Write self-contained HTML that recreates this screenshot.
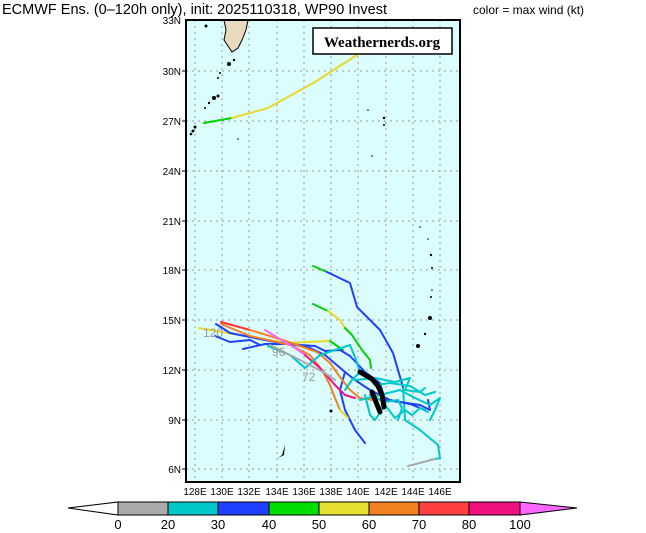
<!DOCTYPE html>
<html><head><meta charset="utf-8"><style>
body{margin:0;background:#fff;width:646px;height:533px;overflow:hidden;font-family:"Liberation Sans",sans-serif}
svg{display:block}
</style></head><body>
<svg width="646" height="533" viewBox="0 0 646 533" xmlns="http://www.w3.org/2000/svg">
<text x="2" y="14" font-size="14.5" font-family="Liberation Sans, sans-serif" fill="#000">ECMWF Ens. (0–120h only), init: 2025110318, WP90 Invest</text>
<text x="473" y="14" font-size="12" font-family="Liberation Sans, sans-serif" fill="#000">color = max wind (kt)</text>
<rect x="186" y="20" width="274" height="462" fill="#dcfdfe"/>
<g stroke="#999" stroke-width="1" stroke-dasharray="2,4">
<line x1="186" y1="71" x2="460" y2="71"/><line x1="186" y1="121" x2="460" y2="121"/><line x1="186" y1="171" x2="460" y2="171"/><line x1="186" y1="221" x2="460" y2="221"/><line x1="186" y1="270" x2="460" y2="270"/><line x1="186" y1="320" x2="460" y2="320"/><line x1="186" y1="370" x2="460" y2="370"/><line x1="186" y1="420" x2="460" y2="420"/><line x1="186" y1="469" x2="460" y2="469"/>
<line x1="195" y1="20" x2="195" y2="482"/><line x1="222" y1="20" x2="222" y2="482"/><line x1="249" y1="20" x2="249" y2="482"/><line x1="277" y1="20" x2="277" y2="482"/><line x1="304" y1="20" x2="304" y2="482"/><line x1="331" y1="20" x2="331" y2="482"/><line x1="358" y1="20" x2="358" y2="482"/><line x1="386" y1="20" x2="386" y2="482"/><line x1="413" y1="20" x2="413" y2="482"/><line x1="440" y1="20" x2="440" y2="482"/>
</g>
<!-- land -->
<path d="M224,20 L248,20 L246,30 L242,40 L238,48 L232,52 L228,46 L224,40 L226,30 Z" fill="#e8d9bf" stroke="#000" stroke-width="1"/>
<g fill="#000">
<circle cx="206" cy="26" r="1.5"/><circle cx="229" cy="64" r="2"/><circle cx="234" cy="60" r="1.2"/><circle cx="220" cy="73" r="1"/><circle cx="218" cy="78" r="1"/>
<circle cx="214" cy="98" r="2"/><circle cx="218" cy="96" r="1.5"/><circle cx="209" cy="103" r="1.2"/><circle cx="205" cy="108" r="1"/>
<circle cx="195" cy="127" r="1.5"/><circle cx="193" cy="131" r="1.5"/><circle cx="191" cy="134" r="1.3"/>
<circle cx="238" cy="139" r="0.8"/><circle cx="368" cy="110" r="0.8"/><circle cx="384" cy="118" r="1.2"/><circle cx="384" cy="125" r="1"/><circle cx="372" cy="156" r="0.8"/>
<circle cx="420" cy="227" r="0.8"/><circle cx="428" cy="239" r="0.8"/><circle cx="431" cy="255" r="1.2"/><circle cx="432" cy="268" r="1"/><circle cx="432" cy="290" r="0.8"/><circle cx="431" cy="297" r="1"/><circle cx="430" cy="318" r="2"/><circle cx="425" cy="334" r="1.2"/><circle cx="418" cy="346" r="2"/>
<circle cx="331" cy="411" r="1.5"/><path d="M282,455 L285,445 L284,455 L278,458 Z"/>
</g>
<!-- tracks -->
<g fill="none" stroke-width="2" stroke-linejoin="round" stroke-linecap="round">
<polyline stroke="#00d000" points="204,123 232,118"/>
<polyline stroke="#e8d82a" points="232,118 268,108 315,82 360,53"/>
<polyline stroke="#00c8c8" points="403,387 405,420 420,430 438,445 440,458 430,460"/>
<polyline stroke="#aaaaaa" points="408,466 435,459"/>
<polyline stroke="#00d000" points="313,266 327,272"/>
<polyline stroke="#2040ff" points="327,272 350,283 357,307 380,330 393,353 403,387"/>
<polyline stroke="#00d000" points="313,304 328,311"/>
<polyline stroke="#e8d82a" points="328,311 340,320 345,328"/>
<polyline stroke="#00d000" points="345,328 352,335 362,350 370,360 371,368"/>
<polyline stroke="#e8d82a" points="199,328 250,337 287,343 330,341"/>
<polyline stroke="#00d000" points="330,341 343,350"/>
<polyline stroke="#2040ff" points="216,324 230,333 250,337 275,342 300,345 315,346 325,351 340,350 350,356 365,372 380,383 385,400 400,402 420,405 430,410 428,400"/>
<polyline stroke="#2040ff" points="243,349 265,344 290,344 310,348 325,355 345,372 355,380 370,390 390,400 410,404 425,410"/>
<polyline stroke="#2040ff" points="215,336 230,342 250,340 260,345"/>
<polyline stroke="#2040ff" points="345,372 340,390 345,410 355,430 365,443"/>
<polyline stroke="#ff3333" points="221,322 250,330"/>
<polyline stroke="#f08020" points="250,330 283,340 317,352 330,363 340,377 350,390 360,398 373,400"/>
<polyline stroke="#f08020" points="221,324 250,336 290,345 310,355 322,370 330,385 335,398 340,410"/>
<polyline stroke="#ff66ff" points="265,330 295,348 305,355"/>
<polyline stroke="#f01080" points="305,355 320,368 335,385 345,395 355,398"/>
<polyline stroke="#e8d82a" points="340,410 348,418"/>
<polyline stroke="#00c8c8" points="268,346 290,355 305,368 320,355 350,345 355,357 360,372 352,380 345,390"/>
<polyline stroke="#00c8c8" points="355,380 375,378 395,382 410,378 405,390 420,392 425,388"/>
<polyline stroke="#00c8c8" points="360,400 380,395 400,390 415,398 430,405 440,398 435,410 430,420"/>
<polyline stroke="#00c8c8" points="365,395 370,415 375,420 385,405 395,418 405,410 412,415 420,408 428,412"/>
<polyline stroke="#00c8c8" points="375,385 390,383 410,386 425,395 435,392"/>
<polyline stroke="#00c8c8" points="370,395 385,402 398,400 402,408 398,420"/>
<polyline stroke="#aaaaaa" points="270,345 300,360 325,373 335,380"/>
</g>
<g fill="none" stroke="#000" stroke-width="5" stroke-linecap="round">
<polyline points="360,372 372,379 378,386 382,395 384,407"/>
<polyline points="372,392 376,402 380,412"/>
</g>
<g font-size="12" fill="#999" font-family="Liberation Sans, sans-serif">
<text x="203" y="337">120</text><text x="272" y="356">96</text><text x="302" y="381">72</text>
</g>
<rect x="186" y="20" width="274" height="462" fill="none" stroke="#000" stroke-width="2"/>
<rect x="313" y="28" width="139" height="26" fill="#fff" stroke="#000" stroke-width="1.5"/>
<text x="382" y="47" font-size="15" font-weight="bold" text-anchor="middle" font-family="Liberation Serif, serif">Weathernerds.org</text>
<g font-size="10" font-family="Liberation Sans, sans-serif" text-anchor="end">
<text x="181" y="24">33N</text><text x="181" y="75">30N</text><text x="181" y="125">27N</text><text x="181" y="175">24N</text><text x="181" y="225">21N</text><text x="181" y="274">18N</text><text x="181" y="324">15N</text><text x="181" y="374">12N</text><text x="181" y="424">9N</text><text x="181" y="473">6N</text>
</g>
<g stroke="#000"><line x1="182" y1="71" x2="186" y2="71"/><line x1="182" y1="121" x2="186" y2="121"/><line x1="182" y1="171" x2="186" y2="171"/><line x1="182" y1="221" x2="186" y2="221"/><line x1="182" y1="270" x2="186" y2="270"/><line x1="182" y1="320" x2="186" y2="320"/><line x1="182" y1="370" x2="186" y2="370"/><line x1="182" y1="420" x2="186" y2="420"/><line x1="182" y1="469" x2="186" y2="469"/></g>
<g font-size="10" font-family="Liberation Sans, sans-serif" text-anchor="middle">
<text x="195" y="495">128E</text><text x="222" y="495">130E</text><text x="249" y="495">132E</text><text x="277" y="495">134E</text><text x="304" y="495">136E</text><text x="331" y="495">138E</text><text x="358" y="495">140E</text><text x="386" y="495">142E</text><text x="413" y="495">144E</text><text x="440" y="495">146E</text>
</g>
<!-- colorbar -->
<g stroke="#000" stroke-width="1">
<polygon points="68,508 118,502 118,515" fill="#fff"/>
<rect x="118" y="502" width="50" height="13" fill="#aaaaaa"/>
<rect x="168" y="502" width="50" height="13" fill="#00c8c8"/>
<rect x="218" y="502" width="51" height="13" fill="#2040ff"/>
<rect x="269" y="502" width="50" height="13" fill="#00dd00"/>
<rect x="319" y="502" width="50" height="13" fill="#e8e030"/>
<rect x="369" y="502" width="50" height="13" fill="#f08020"/>
<rect x="419" y="502" width="50" height="13" fill="#ff4040"/>
<rect x="469" y="502" width="51" height="13" fill="#f01080"/>
<polygon points="520,502 577,508 520,515" fill="#ff66ff"/>
</g>
<g font-size="13" font-family="Liberation Sans, sans-serif" text-anchor="middle">
<text x="118" y="529">0</text><text x="168" y="529">20</text><text x="218" y="529">30</text><text x="269" y="529">40</text><text x="319" y="529">50</text><text x="369" y="529">60</text><text x="419" y="529">70</text><text x="469" y="529">80</text><text x="520" y="529">100</text>
</g>
</svg>
</body></html>
